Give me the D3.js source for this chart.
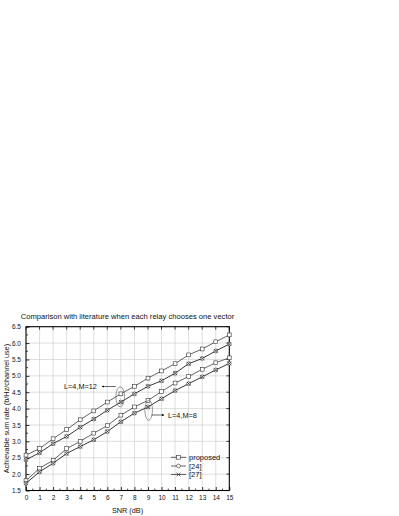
<!DOCTYPE html>
<html>
<head>
<meta charset="utf-8">
<script src="https://cdn.jsdelivr.net/npm/d3@7"></script>
<style>
  body { margin: 0; background: #fff; }
  svg { display: block; font-family: "Liberation Sans", Arial, sans-serif; }
</style>
</head>
<body>
<div id="chart"></div>
<script>
// SNR axis
const snr = d3.range(0, 16);
// L=4, M=12
const proposedM12 = [2.58, 2.78, 3.08, 3.36, 3.66, 3.93, 4.2, 4.45, 4.68, 4.93, 5.15, 5.37, 5.64, 5.82, 6.04, 6.25];
const litM12 = [2.44, 2.65, 2.93, 3.15, 3.43, 3.68, 3.95, 4.2, 4.45, 4.68, 4.85, 5.08, 5.37, 5.53, 5.76, 5.97];
// L=4, M=8
const proposedM8 = [1.8, 2.18, 2.42, 2.78, 3.0, 3.25, 3.48, 3.8, 4.05, 4.25, 4.52, 4.78, 4.98, 5.2, 5.4, 5.55];
const litM8 = [1.72, 2.07, 2.33, 2.63, 2.84, 3.05, 3.3, 3.6, 3.86, 4.05, 4.3, 4.55, 4.76, 4.97, 5.18, 5.38];
const yTicks = [1.5, 2.0, 2.5, 3.0, 3.5, 4.0, 4.5, 5.0, 5.5, 6.0, 6.5];
const legendLabels = ['proposed', '[24]', '[27]'];

const W = 399, H = 516;
const mLeft = 26, mRight = 229.3, mTop = 326.7, mBottom = 490.5;

const svg = d3.select('#chart').append('svg')
  .attr('width', W).attr('height', H);

const x = d3.scaleLinear().domain([0, 15]).range([mLeft, mRight]);
const y = d3.scaleLinear().domain([1.5, 6.5]).range([mBottom, mTop]);

// grid
const grid = svg.append('g').attr('stroke', '#d0d0d0').attr('stroke-width', 0.7);
grid.selectAll('line.vx').data(snr.slice(1, -1)).join('line')
  .attr('x1', d => x(d)).attr('x2', d => x(d)).attr('y1', mTop).attr('y2', mBottom);
grid.selectAll('line.hy').data(yTicks.slice(1, -1)).join('line')
  .attr('x1', mLeft).attr('x2', mRight).attr('y1', d => y(d)).attr('y2', d => y(d));

// axes
const xAxis = d3.axisBottom(x).tickValues(snr).tickFormat(d3.format('d')).tickSizeInner(-3.5).tickSizeOuter(0).tickPadding(5);
const yAxis = d3.axisLeft(y).tickValues(yTicks).tickFormat(d3.format('.1f')).tickSizeInner(-3.5).tickSizeOuter(0).tickPadding(5);

const gx = svg.append('g').attr('transform', `translate(0,${mBottom})`).call(xAxis);
const gy = svg.append('g').attr('transform', `translate(${mLeft},0)`).call(yAxis);
[gx, gy].forEach(g => {
  g.select('.domain').remove();
  g.selectAll('line').attr('stroke', '#000').attr('stroke-width', 0.8);
  g.selectAll('text').attr('font-size', 6.5).attr('fill', '#111');
});

// minor ticks
const minorX = d3.range(0.5, 15, 1);
const minorY = d3.range(1.75, 6.5, 0.5);
const ticks = svg.append('g').attr('stroke', '#000').attr('stroke-width', 0.7);
ticks.selectAll('line.mx').data(minorX).join('line')
  .attr('x1', d => x(d)).attr('x2', d => x(d)).attr('y1', mBottom).attr('y2', mBottom - 2);
ticks.selectAll('line.my').data(minorY).join('line')
  .attr('x1', mLeft).attr('x2', mLeft + 2).attr('y1', d => y(d)).attr('y2', d => y(d));
// mirrored ticks on top/right
ticks.selectAll('line.tx').data(snr).join('line')
  .attr('x1', d => x(d)).attr('x2', d => x(d)).attr('y1', mTop).attr('y2', mTop + 3);
ticks.selectAll('line.ry').data(yTicks).join('line')
  .attr('x1', mRight).attr('x2', mRight - 3).attr('y1', d => y(d)).attr('y2', d => y(d));

// frame
svg.append('rect').attr('x', mLeft).attr('y', mTop)
  .attr('width', mRight - mLeft).attr('height', mBottom - mTop)
  .attr('fill', 'none').attr('stroke', '#000').attr('stroke-width', 1.1);

// series
const line = d3.line().x((d, i) => x(snr[i])).y(d => y(d));
const series = [
  { values: proposedM12, marker: 'square' },
  { values: litM12, marker: 'circlex' },
  { values: proposedM8, marker: 'square' },
  { values: litM8, marker: 'circlex' }
];

const ms = 1.9;
function drawMarker(g, kind, cx, cy) {
  if (kind === 'square') {
    g.append('rect').attr('x', cx - ms).attr('y', cy - ms).attr('width', 2 * ms).attr('height', 2 * ms)
      .attr('fill', '#fff').attr('stroke', '#333').attr('stroke-width', 0.6);
  } else if (kind === 'circle') {
    g.append('circle').attr('cx', cx).attr('cy', cy).attr('r', ms)
      .attr('fill', '#fff').attr('stroke', '#333').attr('stroke-width', 0.6);
  } else if (kind === 'x') {
    g.append('path').attr('d', `M${cx - ms},${cy - ms}L${cx + ms},${cy + ms}M${cx - ms},${cy + ms}L${cx + ms},${cy - ms}`)
      .attr('stroke', '#222').attr('stroke-width', 0.7);
  } else if (kind === 'circlex') {
    drawMarker(g, 'circle', cx, cy);
    drawMarker(g, 'x', cx, cy);
  }
}

series.forEach(s => {
  svg.append('path').datum(s.values).attr('d', line)
    .attr('fill', 'none').attr('stroke', '#222').attr('stroke-width', s.marker === 'square' ? 0.7 : 0.9);
  const g = svg.append('g');
  s.values.forEach((v, i) => drawMarker(g, s.marker, x(snr[i]), y(v)));
});

// ellipse annotations
const ann = svg.append('g').attr('fill', 'none').attr('stroke', '#555').attr('stroke-width', 0.6);
ann.append('ellipse').attr('cx', x(6.95)).attr('cy', y(4.36)).attr('rx', 4.3).attr('ry', 10);
ann.append('ellipse').attr('cx', x(9.05)).attr('cy', y(3.95)).attr('rx', 3.8).attr('ry', 10);

svg.append('defs').append('marker').attr('id', 'ah')
  .attr('viewBox', '0 0 10 10').attr('refX', 9).attr('refY', 5)
  .attr('markerWidth', 5).attr('markerHeight', 4).attr('orient', 'auto')
  .append('path').attr('d', 'M0,0L10,5L0,10z').attr('fill', '#000');

svg.append('line').attr('x1', x(6.95) - 4.5).attr('y1', 386.5).attr('x2', 102).attr('y2', 386.5)
  .attr('stroke', '#000').attr('stroke-width', 0.6).attr('marker-end', 'url(#ah)');
svg.append('line').attr('x1', x(9.05) + 3).attr('y1', 415).attr('x2', 164).attr('y2', 415)
  .attr('stroke', '#000').attr('stroke-width', 0.6).attr('marker-end', 'url(#ah)');

svg.append('text').attr('x', 64).attr('y', 389.3).attr('font-size', 7.3).attr('fill', '#111').text('L=4,M=12');
svg.append('text').attr('x', 168).attr('y', 417.8).attr('font-size', 7.3).attr('fill', '#111').text('L=4,M=8');

// legend
const legendMarkers = ['square', 'circle', 'x'];
const legendY = [457.3, 466, 474.5];
legendLabels.forEach((lab, i) => {
  const g = svg.append('g');
  g.append('line').attr('x1', 171).attr('x2', 186).attr('y1', legendY[i]).attr('y2', legendY[i])
    .attr('stroke', '#222').attr('stroke-width', 0.7);
  drawMarker(g, legendMarkers[i], 178.5, legendY[i]);
  g.append('text').attr('x', 189).attr('y', legendY[i] + 2.6).attr('font-size', 7.5).attr('fill', '#111').text(lab);
});

// titles
svg.append('text').attr('x', 127.5).attr('y', 318.5).attr('text-anchor', 'middle')
  .attr('font-size', 7.6).attr('fill', '#111')
  .text('Comparison with literature when each relay chooses one vector');
svg.append('text').attr('x', 127.5).attr('y', 512.5).attr('text-anchor', 'middle')
  .attr('font-size', 7.3).attr('fill', '#111').text('SNR (dB)');
svg.append('text').attr('transform', `translate(8.5,${(mTop + mBottom) / 2}) rotate(-90)`)
  .attr('text-anchor', 'middle').attr('font-size', 7.3).attr('fill', '#111')
  .text('Achievable sum rate (b/Hz/channel use)');
</script>
</body>
</html>
